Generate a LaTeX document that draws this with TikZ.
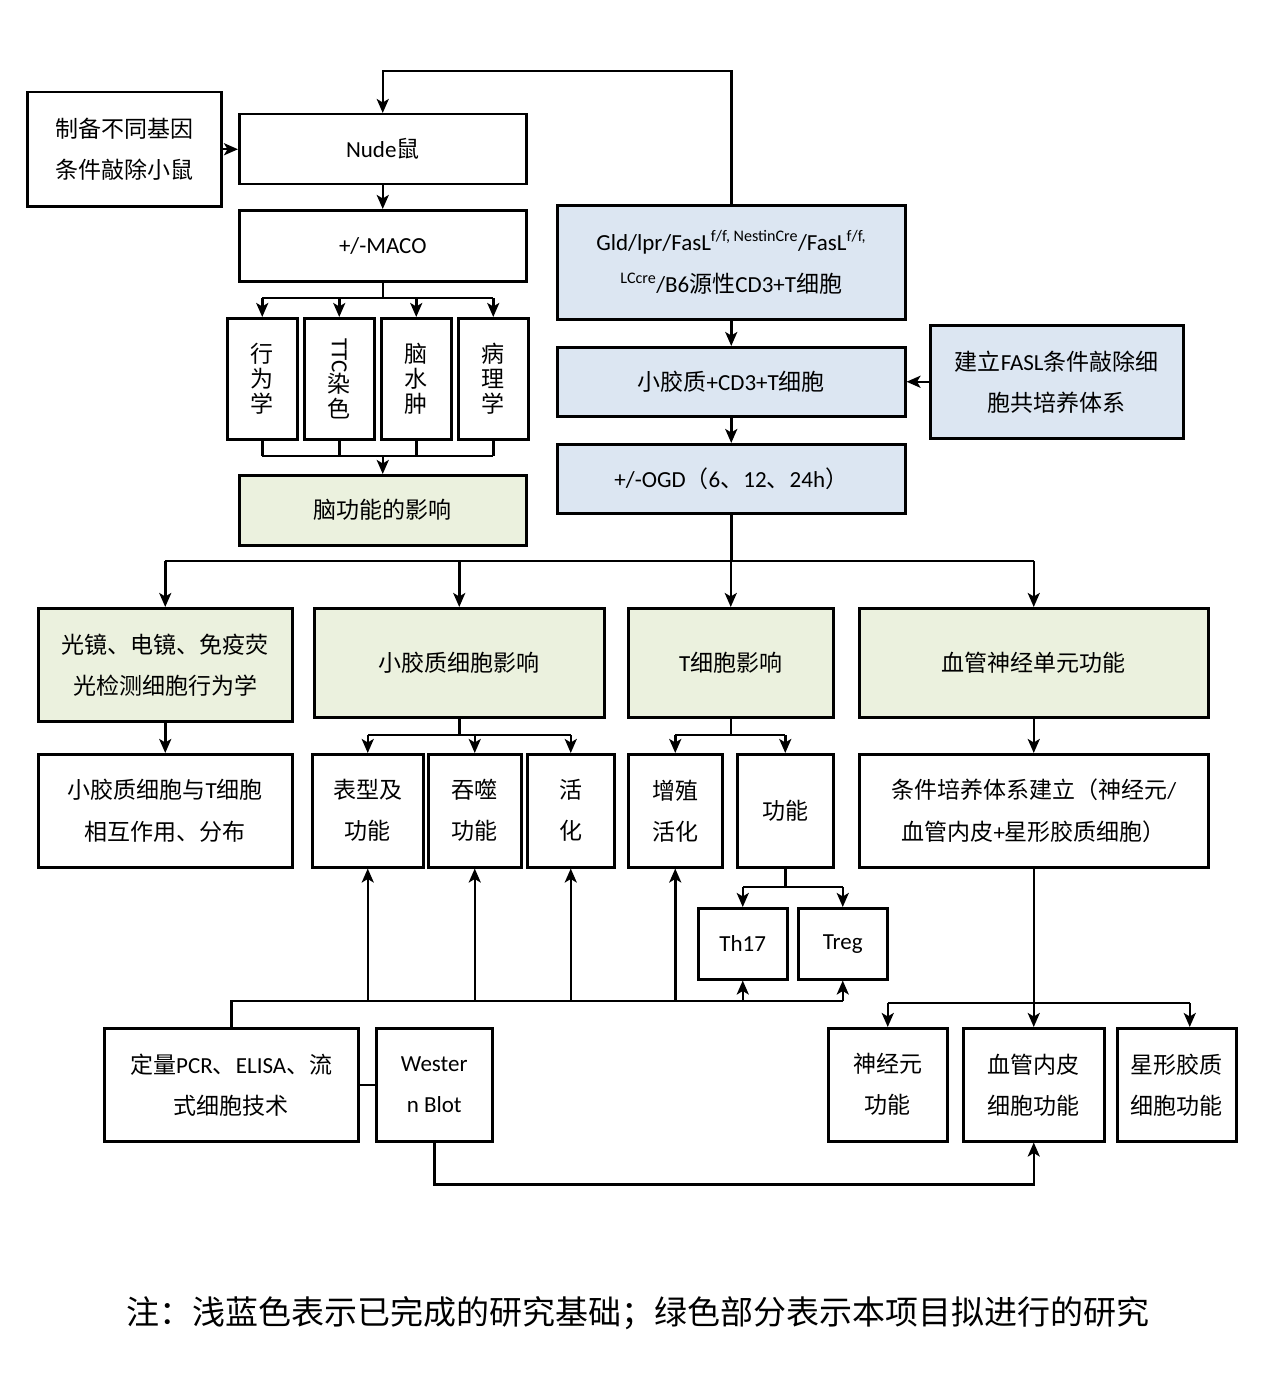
\documentclass[tikz,border=0pt]{standalone}
\usepackage{fontspec}
\setmainfont{Noto Sans CJK SC}
\newfontfamily\lt{Carlito}
\usetikzlibrary{arrows.meta,calc}
\definecolor{lblue}{RGB}{220,230,242}
\definecolor{lgreen}{RGB}{235,241,222}
\tikzset{
 box/.style={draw=black, line width=2.5pt, inner sep=0pt, anchor=north west, align=center, font=\fontsize{23}{41}\selectfont},
 bluebox/.style={box, fill=lblue},
 greenbox/.style={box, fill=lgreen},
 vbox/.style={box, font=\fontsize{23}{25}\selectfont},
 conn/.style={line width=2.5pt},
 arr/.style={conn, -{Stealth[length=14pt,width=12pt,inset=3.5pt]}},
}
\begin{document}
\begin{tikzpicture}[x=1pt,y=-1pt]
\useasboundingbox (0,0) rectangle (1280,1399);
\fill[white] (0,0) rectangle (1280,1399);

% top-left column
\node[box, minimum width=194pt, minimum height=114pt] (prep) at (26,91) {制备不同基因\\条件敲除小鼠};
\node[box, minimum width=287pt, minimum height=70pt] (nude) at (238,113) {{\lt Nude}鼠};
\node[box, minimum width=287pt, minimum height=71pt] (maco) at (238,209) {\lt +/-MACO};
\node[vbox, minimum width=70pt, minimum height=121pt] (v1) at (226,317) {行\\为\\学};
\node[vbox, minimum width=70pt, minimum height=121pt] (v2) at (303,317) {\rotatebox{-90}{\lt TTC}\\染\\色};
\node[vbox, minimum width=70pt, minimum height=121pt] (v3) at (380,317) {脑\\水\\肿};
\node[vbox, minimum width=70pt, minimum height=121pt] (v4) at (457,317) {病\\理\\学};
\node[greenbox, minimum width=287pt, minimum height=70pt] (brain) at (238,474) {脑功能的影响};

% top-right column
\node[bluebox, minimum width=348pt, minimum height=114pt, font=\fontsize{23}{42}\selectfont] (gld) at (556,204)
 {{\lt Gld/lpr/FasL\textsuperscript{f/f, NestinCre}/FasL\textsuperscript{f/f,}}\\{\lt \textsuperscript{LCcre}/B6}源性{\lt CD3+T}细胞};
\node[bluebox, minimum width=348pt, minimum height=69pt] (cd3) at (556,346) {小胶质{\lt +CD3+T}细胞};
\node[bluebox, minimum width=253pt, minimum height=113pt] (fasl) at (929,324) {建立{\lt FASL}条件敲除细\\胞共培养体系};
\node[bluebox, minimum width=348pt, minimum height=69pt] (ogd) at (556,443) {{\lt +/-OGD}（{\lt 6}、{\lt 12}、{\lt 24h}）};

% green row
\node[greenbox, minimum width=254pt, minimum height=113pt] (g1) at (37,607) {光镜、电镜、免疫荧\\光检测细胞行为学};
\node[greenbox, minimum width=290pt, minimum height=109pt] (g2) at (313,607) {小胶质细胞影响};
\node[greenbox, minimum width=205pt, minimum height=109pt] (g3) at (627,607) {{\lt T}细胞影响};
\node[greenbox, minimum width=349pt, minimum height=109pt] (g4) at (858,607) {血管神经单元功能};

% result row
\node[box, minimum width=254pt, minimum height=113pt] (r1) at (37,753) {小胶质细胞与{\lt T}细胞\\相互作用、分布};
\node[box, minimum width=111pt, minimum height=113pt] (r2) at (311,753) {表型及\\功能};
\node[box, minimum width=93pt, minimum height=113pt] (r3) at (427,753) {吞噬\\功能};
\node[box, minimum width=87pt, minimum height=113pt] (r4) at (526,753) {活\\化};
\node[box, minimum width=94pt, minimum height=113pt] (r5) at (627,753) {增殖\\活化};
\node[box, minimum width=96pt, minimum height=113pt] (r6) at (736,753) {功能};
\node[box, minimum width=349pt, minimum height=113pt] (r7) at (858,753) {条件培养体系建立（神经元{\lt /}\\血管内皮{\lt +}星形胶质细胞）};

\node[box, minimum width=89pt, minimum height=71pt] (th17) at (697,907) {\lt Th17};
\node[box, minimum width=89pt, minimum height=71pt] (treg) at (797,907) {\lt Treg};

% bottom row
\node[box, minimum width=254pt, minimum height=113pt] (p1) at (103,1027) {定量{\lt PCR}、{\lt ELISA}、流\\式细胞技术};
\node[box, minimum width=116pt, minimum height=113pt] (p2) at (375,1027) {\lt Wester\\\lt n Blot};
\node[box, minimum width=119pt, minimum height=113pt] (b1) at (827,1027) {神经元\\功能};
\node[box, minimum width=141pt, minimum height=113pt] (b2) at (962,1027) {血管内皮\\细胞功能};
\node[box, minimum width=119pt, minimum height=113pt] (b3) at (1116,1027) {星形胶质\\细胞功能};

\node[font=\fontsize{33}{36}\selectfont, inner sep=0pt] (note) at (638,1313) {注：浅蓝色表示已完成的研究基础；绿色部分表示本项目拟进行的研究};

% junction rows
\coordinate (j1) at (0,298);
\coordinate (j2) at (0,456);
\coordinate (j3) at (0,561);
\coordinate (j4) at (0,735);
\coordinate (j5) at (0,887);
\coordinate (j6) at (0,1003);
\coordinate (j7) at (0,1001);

% connectors top-left
\draw[arr] (gld.north) -- ++(0,-133) -| (nude.north);
\draw[arr] (prep.east) -- (nude.west);
\draw[arr] (nude) -- (maco);
\draw[conn] (maco.south) -- (maco.south |- j1);
\draw[conn] (v1.north |- j1) -- (v4.north |- j1);
\foreach \v in {v1,v2,v3,v4} {\draw[arr] (\v.north |- j1) -- (\v.north);}
\foreach \v in {v1,v2,v3,v4} {\draw[conn] (\v.south) -- (\v.south |- j2);}
\draw[conn] (v1.south |- j2) -- (v4.south |- j2);
\draw[arr] (brain.north |- j2) -- (brain.north);

% top-right
\draw[arr] (gld) -- (cd3);
\draw[arr] (fasl.west |- cd3.east) -- (cd3.east);
\draw[arr] (cd3) -- (ogd);
\draw[conn] (ogd.south) -- (ogd.south |- j3);
\draw[conn] (g1.north |- j3) -- (g4.north |- j3);
\foreach \g in {g1,g2,g3,g4} {\draw[arr] (\g.north |- j3) -- (\g.north);}

% second level
\draw[arr] (g1) -- (r1);
\draw[conn] (g2.south) -- (g2.south |- j4);
\draw[conn] (r2.north |- j4) -- (r4.north |- j4);
\foreach \r in {r2,r3,r4} {\draw[arr] (\r.north |- j4) -- (\r.north);}
\draw[conn] (g3.south) -- (g3.south |- j4);
\draw[conn] (r5.north |- j4) -- (r6.north |- j4);
\foreach \r in {r5,r6} {\draw[arr] (\r.north |- j4) -- (\r.north);}
\draw[arr] (g4) -- (r7);

% T cell function
\draw[conn] (r6.south) -- (r6.south |- j5);
\draw[conn] (th17.north |- j5) -- (treg.north |- j5);
\foreach \t in {th17,treg} {\draw[arr] (\t.north |- j5) -- (\t.north);}

% NVU
\draw[arr] (r7.south) -- (b2.north);
\coordinate (b3in) at ($(b3.north)+(13,0)$);
\draw[conn] (b1.north |- j6) -- (b3in |- j6);
\draw[arr] (b1.north |- j6) -- (b1.north);
\draw[arr] (b3in |- j6) -- (b3in);

% methods
\draw[conn] (p1.north) -- (p1.north |- j7) -- (treg.south |- j7);
\foreach \r in {r2,r3,r4,r5,th17,treg} {\draw[arr] (\r.south |- j7) -- (\r.south);}
\draw[conn] (p1.east) -- (p2.west);
\draw[arr] (p2.south) -- ++(0,42) -| (b2.south);
\end{tikzpicture}
\end{document}
